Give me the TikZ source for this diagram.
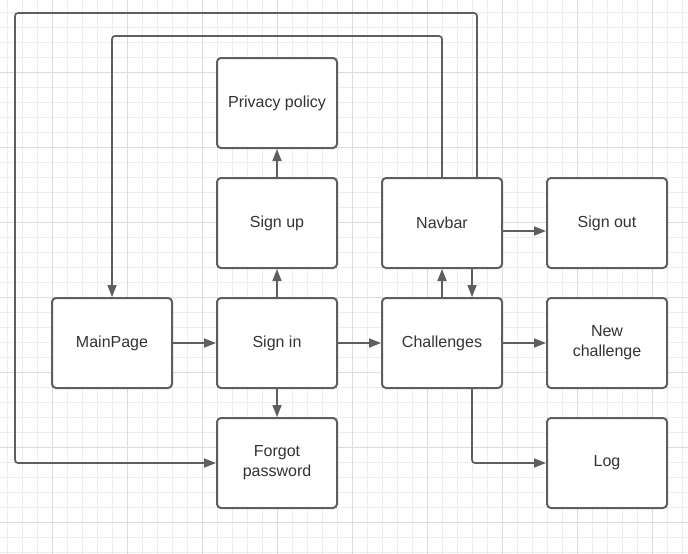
\documentclass[tikz,border=0pt]{standalone}
\usepackage{fontspec}
\setmainfont{Liberation Sans}
\usetikzlibrary{arrows.meta}
\definecolor{lineg}{HTML}{5E5E5E}
\definecolor{txtg}{HTML}{333333}
\definecolor{gridminor}{HTML}{EDEDED}
\definecolor{gridmajor}{HTML}{DCDCDC}
\tikzset{
  box/.style={draw=lineg, line width=2pt, rounded corners=4pt, fill=white,
    minimum width=120pt, minimum height=90pt, inner sep=0pt,
    text=txtg, font=\fontsize{16}{20}\selectfont, align=center},
  conn/.style={draw=lineg, line width=1.7pt, rounded corners=3pt,
    -{Triangle[length=12pt,width=9pt]}},
}
\begin{document}
\begin{tikzpicture}[x=1pt,y=-1pt]
\useasboundingbox (0,0) rectangle (688,554);
\fill[white] (0,0) rectangle (688,554);
% grid
\foreach \gx in {7.5,22.5,...,688} \draw[gridminor, line width=1pt] (\gx,0) -- (\gx,554);
\foreach \gy in {12,27,...,554} \draw[gridminor, line width=1pt] (0,\gy) -- (688,\gy);
\foreach \gx in {52.5,127.5,...,688} \draw[gridmajor, line width=1pt] (\gx,0) -- (\gx,554);
\foreach \gy in {72,147,...,554} \draw[gridmajor, line width=1pt] (0,\gy) -- (688,\gy);
% boxes
\node[box] (priv) at (277,103) {Privacy policy};
\node[box] (signup) at (277,223) {Sign up};
\node[box] (navbar) at (442,223) {Navbar};
\node[box] (signout) at (607,223) {Sign out};
\node[box] (main) at (112,343) {MainPage};
\node[box] (signin) at (277,343) {Sign in};
\node[box] (chal) at (442,343) {Challenges};
\node[box] (newch) at (607,343) {New\\challenge};
\node[box] (forgot) at (277,463) {Forgot\\password};
\node[box] (log) at (607,463) {Log};
% coordinates
\coordinate (t1) at (112,36);
\coordinate (t2a) at (477,13);
\coordinate (t2b) at (15,13);
\coordinate (t2c) at (15,463);
% connectors
\draw[conn] (main.east) -- (signin.west);
\draw[conn] (signin.north) -- (signup.south);
\draw[conn] (signup.north) -- (priv.south);
\draw[conn] (signin.south) -- (forgot.north);
\draw[conn] (signin.east) -- (chal.west);
\draw[conn] (chal.north) -- (navbar.south);
\draw[conn] ([xshift=30pt]navbar.south) -- ([xshift=30pt]chal.north);
\draw[conn] ([yshift=-8pt]navbar.east) -- ([yshift=-8pt]signout.west);
\draw[conn] (chal.east) -- (newch.west);
\draw[conn] ([xshift=30pt]chal.south) |- (log.west);
\draw[conn] (navbar.north) |- (t1) -- (main.north);
\draw[conn] ([xshift=35pt]navbar.north) -- (t2a) -- (t2b) -- (t2c) -- (forgot.west);
\end{tikzpicture}
\end{document}
